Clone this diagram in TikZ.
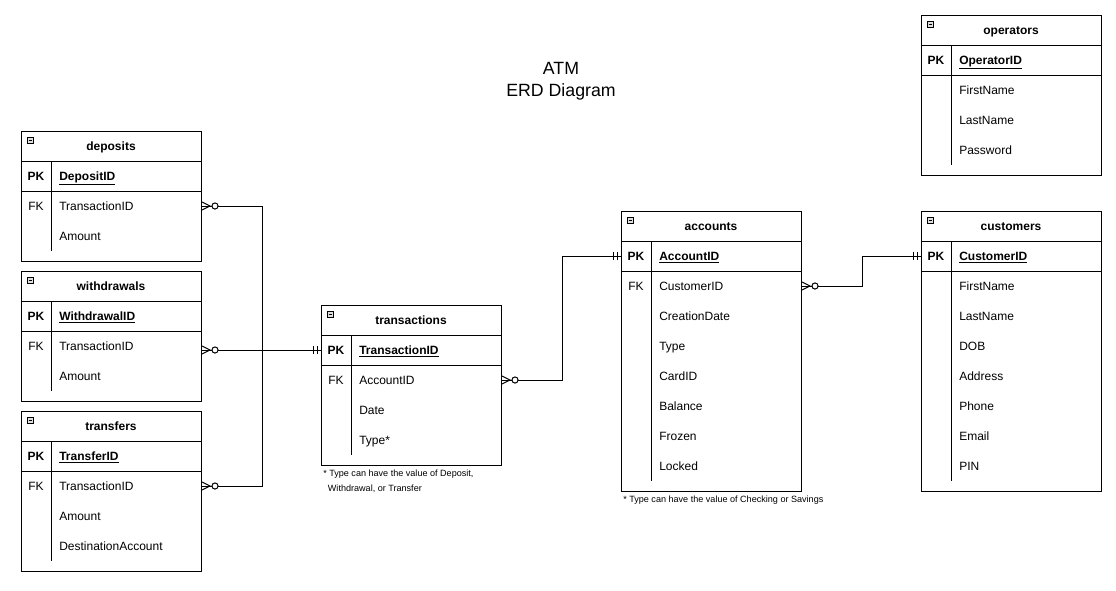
\documentclass[tikz,border=0pt]{standalone}
\usepackage{fontspec}
\setmainfont{Liberation Sans}

\tikzset{
  conn/.style={line width=.75pt},
  tablebox/.style={draw, line width=.75pt, minimum width=135pt, anchor=north west, inner sep=0pt},
  headtext/.style={anchor=base, inner sep=0pt, font=\fontsize{9}{11}\selectfont\bfseries},
  keytext/.style={anchor=base, inner sep=0pt, font=\fontsize{9}{11}\selectfont},
  fieldtext/.style={anchor=base west, inner sep=0pt, font=\fontsize{9}{11}\selectfont},
  notetext/.style={anchor=north west, inner sep=0pt, align=left, font=\fontsize{6.8}{11.25}\selectfont},
  zeromany/.pic={
    \draw[conn] (0,-4) -- (8,0) -- (0,4);
    \draw[conn, fill=white] (13,0) circle[radius=2.3pt];
  },
  onlyone/.pic={
    \draw[conn] (-8,-4) -- (-8,4) (-4,-4) -- (-4,4);
  }
}

% name, x, y, title, primary key, number of other rows, rows
\newcommand{\erdtable}[7]{%
  \pgfmathsetmacro{\tblh}{70+30*#6}
  \node[tablebox, minimum height=\tblh*0.75pt] (#1) at (#2,#3) {};
  \draw[conn] (#2,#3+30) -- ++(180,0);
  \draw[conn] (#2,#3+60) -- ++(180,0);
  \draw[conn] (#2+30,#3+30) -- (#2+30,#3+\tblh-10);
  \draw[line width=.5pt, fill=gray!25] (#2+6,#3+6) rectangle ++(6,6);
  \draw[line width=.6pt] (#2+7.5,#3+9) -- ++(3,0);
  \node[headtext] (#1-h) at (#2+90,#3+19) {#4};
  \coordinate (#1-r0) at (#2,#3+45);
  \node[keytext, font=\fontsize{9}{11}\selectfont\bfseries] (#1-k0) at (#2+15,#3+49) {PK};
  \node[fieldtext, font=\fontsize{9}{11}\selectfont\bfseries] (#1-0) at (#2+38,#3+49) {\underline{#5}};
  \foreach \k/\f [count=\i] in {#7} {
    \coordinate (#1-r\i) at (#2,#3+45+30*\i);
    \node[keytext] (#1-k\i) at (#2+15,#3+49+30*\i) {\k};
    \node[fieldtext] (#1-\i) at (#2+38,#3+49+30*\i) {\f};
  }
}

\begin{document}
\begin{tikzpicture}[x=.75pt,y=-.75pt]
\useasboundingbox (0,0) rectangle (1116,590);

\node[align=center, font=\fontsize{13.3}{16.5}\selectfont] (title) at (561,81) {ATM\\ERD Diagram};

\erdtable{dep}{21}{131}{deposits}{DepositID}{2}{FK/TransactionID, {}/Amount}
\erdtable{wdr}{21}{271}{withdrawals}{WithdrawalID}{2}{FK/TransactionID, {}/Amount}
\erdtable{trf}{21}{411}{transfers}{TransferID}{3}{FK/TransactionID, {}/Amount, {}/DestinationAccount}
\erdtable{trn}{321}{305}{transactions}{TransactionID}{3}{FK/AccountID, {}/Date, {}/Type*}
\erdtable{acc}{621}{211}{accounts}{AccountID}{7}{FK/CustomerID, {}/CreationDate, {}/Type, {}/CardID, {}/Balance, {}/Frozen, {}/Locked}
\erdtable{cus}{921}{211}{customers}{CustomerID}{7}{{}/FirstName, {}/LastName, {}/DOB, {}/Address, {}/Phone, {}/Email, {}/PIN}
\erdtable{opr}{921}{15}{operators}{OperatorID}{3}{{}/FirstName, {}/LastName, {}/Password}

\node[notetext] (trn-note) at (323,470) {* Type can have the value of Deposit,\\\hspace*{3.5pt}Withdrawal, or Transfer};
\node[notetext] (acc-note) at (623,496) {* Type can have the value of Checking or Savings};

% relations
\draw[conn] (dep-r1 -| dep.east) -- ++(60,0) |- (trn-r0 -| trn.west);
\draw[conn] (wdr.east |- trn-r0) -- (trn-r0 -| trn.west);
\draw[conn] (trf-r1 -| trf.east) -- ++(60,0) |- (trn-r0 -| trn.west);
\draw[conn] (trn-r1 -| trn.east) -- ++(60,0) |- (acc-r0 -| acc.west);
\draw[conn] (acc-r1 -| acc.east) -- ++(60,0) |- (cus-r0 -| cus.west);

\pic at (dep-r1 -| dep.east) {zeromany};
\pic at (wdr.east |- trn-r0) {zeromany};
\pic at (trf-r1 -| trf.east) {zeromany};
\pic at (trn-r1 -| trn.east) {zeromany};
\pic at (acc-r1 -| acc.east) {zeromany};
\pic at (trn-r0 -| trn.west) {onlyone};
\pic at (acc-r0 -| acc.west) {onlyone};
\pic at (cus-r0 -| cus.west) {onlyone};
\end{tikzpicture}
\end{document}
